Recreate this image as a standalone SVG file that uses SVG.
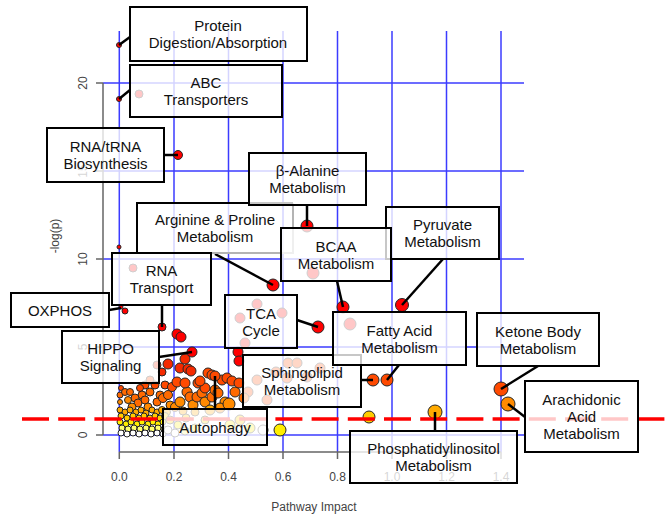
<svg xmlns="http://www.w3.org/2000/svg" width="669" height="515" viewBox="0 0 669 515">
<style>
.grid line{stroke:#3b3bff;stroke-width:1.5}
.axis{stroke:#666;stroke-width:1.5;fill:none}
.tick{font-family:"Liberation Sans",Arial,sans-serif;font-size:12px;fill:#444;text-anchor:middle}
.pts circle{stroke:#262626;stroke-width:1}
.r{fill:#ff0000}.r2{fill:#f52a00}.o1{fill:#ff4a00}.o2{fill:#ff6a00}.o3{fill:#ff8a00}.o4{fill:#ffaa00}
.y1{fill:#ffcc00}.y2{fill:#ffee00}.y3{fill:#ffff70}.w{fill:#ffffff}
.conn line{stroke:#000;stroke-width:2.5}
.node rect{fill:#fff;fill-opacity:0.78;stroke:#000;stroke-width:2}
.node text{font-family:"Liberation Sans",Arial,sans-serif;font-size:15px;fill:#111;text-anchor:middle}
</style>
<rect width="669" height="515" fill="#fff"/>
<g class="grid">
<line x1="119.3" y1="31" x2="119.3" y2="452"/><line x1="174" y1="31" x2="174" y2="452"/>
<line x1="228.5" y1="31" x2="228.5" y2="452"/><line x1="283" y1="31" x2="283" y2="452"/>
<line x1="337.5" y1="31" x2="337.5" y2="452"/><line x1="392" y1="31" x2="392" y2="452"/>
<line x1="446.5" y1="31" x2="446.5" y2="452"/><line x1="501" y1="31" x2="501" y2="452"/>
<line x1="103" y1="83" x2="524" y2="83"/><line x1="103" y1="171" x2="524" y2="171"/>
<line x1="103" y1="259" x2="524" y2="259"/><line x1="103" y1="347" x2="524" y2="347"/>
<line x1="103" y1="435" x2="524" y2="435"/>
</g>
<path class="axis" d="M103,83V435M96,83H103M96,171H103M96,259H103M96,347H103M96,435H103M119.3,452H501M119.3,452v7M174,452v7M228.5,452v7M283,452v7M337.5,452v7M392,452v7M446.5,452v7M501,452v7"/>
<g class="tick">
<text transform="translate(87,83) rotate(-90)">20</text>
<text transform="translate(87,171) rotate(-90)">15</text>
<text transform="translate(87,259) rotate(-90)">10</text>
<text transform="translate(87,347) rotate(-90)">5</text>
<text transform="translate(87,435) rotate(-90)">0</text>
<text transform="translate(59,236) rotate(-90)">-log(p)</text>
<text x="119.3" y="481">0.0</text><text x="174" y="481">0.2</text><text x="228.5" y="481">0.4</text>
<text x="283" y="481">0.6</text><text x="337.5" y="481">0.8</text><text x="392" y="481">1.0</text>
<text x="446.5" y="481">1.2</text><text x="501" y="481">1.4</text>
<text x="314" y="511">Pathway Impact</text>
</g>
<g class="pts">
<circle cx="119" cy="45" r="2.5" class="r"/><circle cx="119" cy="99" r="2.5" class="r"/><circle cx="139" cy="94" r="4" class="r"/>
<circle cx="178" cy="155" r="4.5" class="r"/><circle cx="307" cy="226" r="6" class="r"/><circle cx="273" cy="285" r="6" class="r"/>
<circle cx="343" cy="307" r="6" class="r"/><circle cx="402" cy="305" r="6.5" class="r"/><circle cx="162" cy="327" r="4" class="r"/>
<circle cx="133" cy="268" r="4" class="r"/><circle cx="119" cy="247" r="2" class="r"/><circle cx="121" cy="307" r="2" class="r"/>
<circle cx="125" cy="311" r="3" class="r"/><circle cx="318" cy="327" r="6" class="r"/>
<circle cx="240" cy="318" r="5" class="r"/><circle cx="257" cy="304" r="5" class="r"/><circle cx="282" cy="313" r="5" class="r"/>
<circle cx="245" cy="343" r="5" class="r"/><circle cx="313" cy="273" r="6" class="r"/><circle cx="350" cy="324" r="6" class="r"/>
<circle cx="373" cy="380" r="6" class="o1"/><circle cx="387" cy="380" r="6" class="o1"/>
<circle cx="501" cy="389" r="7" class="o1"/><circle cx="508" cy="404" r="7" class="o3"/><circle cx="435" cy="412" r="7" class="o4"/>
<circle cx="369" cy="417" r="6" class="y1"/><circle cx="280" cy="430" r="6" class="y2"/>
<circle cx="177" cy="334" r="5" class="r"/><circle cx="181" cy="337" r="5" class="r"/>
<circle cx="185" cy="359" r="5" class="r2"/><circle cx="168" cy="364" r="5" class="r2"/><circle cx="180" cy="368" r="5" class="r2"/>
<circle cx="188" cy="369" r="5" class="r2"/><circle cx="191" cy="371" r="5" class="r2"/><circle cx="157" cy="365" r="4" class="r2"/>
<circle cx="162" cy="372" r="4" class="r2"/><circle cx="238" cy="352" r="5" class="r"/><circle cx="239" cy="361" r="5" class="r"/>
<circle cx="192" cy="352" r="5" class="r"/>
<circle cx="257" cy="380" r="5" class="o1"/><circle cx="267" cy="400" r="5" class="o1"/><circle cx="248" cy="392" r="5" class="o1"/>
<circle cx="288" cy="363" r="5" class="o1"/><circle cx="297" cy="363" r="5" class="o1"/><circle cx="307" cy="377" r="5" class="o1"/>
<circle cx="287" cy="378" r="5" class="o1"/><circle cx="276" cy="372" r="5" class="o1"/><circle cx="320" cy="368" r="5" class="o1"/>
<circle cx="121" cy="388" r="2.5" class="o1"/><circle cx="120" cy="395" r="3" class="o2"/><circle cx="125" cy="392" r="3.5" class="o2"/>
<circle cx="120" cy="402" r="2.5" class="o3"/><circle cx="145" cy="385" r="4" class="o1"/><circle cx="150" cy="380" r="4" class="o1"/>
<circle cx="140" cy="388" r="3.5" class="o1"/><circle cx="155" cy="385" r="4" class="o1"/><circle cx="165" cy="385" r="4" class="o1"/>
<circle cx="130" cy="392" r="3.5" class="o2"/><circle cx="142" cy="395" r="4" class="o2"/><circle cx="150" cy="392" r="4" class="o2"/>
<circle cx="160" cy="395" r="4" class="o2"/><circle cx="135" cy="398" r="4" class="o2"/><circle cx="128" cy="400" r="3.5" class="o3"/>
<circle cx="138" cy="403" r="4" class="o2"/><circle cx="145" cy="400" r="4" class="o2"/><circle cx="132" cy="407" r="4" class="o3"/>
<circle cx="148" cy="407" r="4" class="o3"/><circle cx="157" cy="402" r="4" class="o2"/><circle cx="163" cy="398" r="4.5" class="o2"/>
<circle cx="168" cy="395" r="4.5" class="o2"/><circle cx="172" cy="387" r="4.5" class="o1"/><circle cx="170" cy="405" r="4" class="o3"/>
<circle cx="175" cy="407" r="4.5" class="o3"/><circle cx="180" cy="402" r="5" class="o3"/><circle cx="187" cy="392" r="5" class="o2"/>
<circle cx="190" cy="397" r="5" class="o2"/><circle cx="193" cy="405" r="5" class="o3"/><circle cx="197" cy="397" r="5" class="o2"/>
<circle cx="202" cy="393" r="5" class="o2"/><circle cx="205" cy="402" r="5" class="o3"/><circle cx="212" cy="397" r="5" class="o2"/>
<circle cx="215" cy="390" r="5" class="o2"/><circle cx="218" cy="393" r="5" class="o2"/><circle cx="225" cy="402" r="5" class="o3"/>
<circle cx="235" cy="392" r="5" class="o2"/><circle cx="244" cy="398" r="5" class="o2"/><circle cx="220" cy="408" r="5" class="o3"/>
<circle cx="210" cy="410" r="5" class="o4"/><circle cx="195" cy="412" r="4" class="o4"/><circle cx="183" cy="411" r="4" class="o4"/>
<circle cx="229" cy="404" r="6" class="o3"/>
<circle cx="177" cy="382" r="5" class="o1"/><circle cx="185" cy="383" r="5" class="o1"/><circle cx="198" cy="383" r="5" class="o1"/>
<circle cx="205" cy="388" r="5" class="o1"/><circle cx="200" cy="381" r="5" class="o1"/><circle cx="208" cy="373" r="5" class="o1"/>
<circle cx="212" cy="375" r="5" class="o1"/><circle cx="222" cy="380" r="5" class="o1"/><circle cx="227" cy="378" r="5" class="o1"/>
<circle cx="232" cy="381" r="5" class="o1"/><circle cx="239" cy="383" r="5" class="o1"/><circle cx="215" cy="376" r="5" class="o1"/>
<circle cx="120" cy="410" r="3" class="o4"/><circle cx="125" cy="412" r="3" class="o4"/><circle cx="130" cy="410" r="3" class="o4"/>
<circle cx="136" cy="412" r="3" class="o4"/><circle cx="141" cy="410" r="3" class="o4"/><circle cx="146" cy="413" r="3" class="o4"/>
<circle cx="152" cy="410" r="3" class="o4"/><circle cx="157" cy="412" r="3" class="o4"/><circle cx="162" cy="410" r="3.5" class="o4"/>
<circle cx="167" cy="412" r="3.5" class="o4"/>
<circle cx="121" cy="416" r="3" class="y1"/><circle cx="127" cy="418" r="3" class="y1"/><circle cx="133" cy="416" r="3" class="y1"/>
<circle cx="139" cy="418" r="3" class="y1"/><circle cx="144" cy="416" r="3" class="y1"/><circle cx="150" cy="418" r="3" class="y1"/>
<circle cx="155" cy="416" r="3" class="y1"/><circle cx="160" cy="418" r="3" class="y1"/><circle cx="165" cy="416" r="3.5" class="y1"/>
<circle cx="120" cy="422" r="3" class="y2"/><circle cx="126" cy="424" r="3" class="y2"/><circle cx="131" cy="422" r="3" class="y2"/>
<circle cx="137" cy="424" r="3" class="y2"/><circle cx="142" cy="422" r="3" class="y2"/><circle cx="148" cy="424" r="3" class="y2"/>
<circle cx="153" cy="422" r="3" class="y2"/><circle cx="158" cy="424" r="3" class="y2"/><circle cx="163" cy="422" r="3" class="y2"/>
<circle cx="122" cy="428" r="3" class="y3"/><circle cx="128" cy="429" r="3" class="y3"/><circle cx="134" cy="428" r="3" class="y3"/>
<circle cx="140" cy="429" r="3" class="y3"/><circle cx="146" cy="428" r="3" class="y3"/><circle cx="152" cy="429" r="3" class="y3"/>
<circle cx="158" cy="428" r="3" class="y3"/><circle cx="164" cy="429" r="3" class="y3"/>
<circle cx="121" cy="433" r="3" class="w"/><circle cx="127" cy="434" r="3" class="w"/><circle cx="133" cy="433" r="3" class="w"/>
<circle cx="139" cy="434" r="3" class="w"/><circle cx="145" cy="433" r="3" class="w"/><circle cx="151" cy="434" r="3" class="w"/>
<circle cx="157" cy="433" r="3" class="w"/><circle cx="163" cy="434" r="3" class="w"/>
<circle cx="170" cy="420" r="4" class="y1"/><circle cx="178" cy="425" r="4" class="y2"/><circle cx="186" cy="418" r="4" class="y1"/>
<circle cx="195" cy="428" r="4" class="y2"/><circle cx="205" cy="420" r="4" class="y1"/><circle cx="168" cy="430" r="4" class="w"/>
<circle cx="175" cy="433" r="4" class="w"/><circle cx="185" cy="431" r="4" class="y3"/><circle cx="230" cy="425" r="5" class="y2"/>
<circle cx="240" cy="420" r="5" class="y1"/><circle cx="250" cy="428" r="5" class="y2"/><circle cx="263" cy="430" r="5" class="w"/>
</g>
<line x1="22" y1="419" x2="669" y2="419" stroke="#ff0000" stroke-width="3.5" stroke-dasharray="27 9.2"/>
<g class="conn">
<line x1="130" y1="37" x2="119" y2="45"/>
<line x1="130" y1="90" x2="119" y2="99"/>
<line x1="164" y1="155" x2="178" y2="155"/>
<line x1="307" y1="205" x2="307" y2="226"/>
<line x1="215" y1="254" x2="273" y2="285"/>
<line x1="337" y1="281" x2="343" y2="307"/>
<line x1="443" y1="259" x2="402" y2="305"/>
<line x1="162" y1="305" x2="162" y2="327"/>
<line x1="109" y1="310" x2="121" y2="308"/>
<line x1="297" y1="320" x2="318" y2="327"/>
<line x1="399" y1="365" x2="387" y2="380"/>
<line x1="361" y1="380" x2="373" y2="380"/>
<line x1="159" y1="357" x2="192" y2="352"/>
<line x1="215" y1="409" x2="215" y2="376"/>
<line x1="538" y1="366" x2="501" y2="389"/>
<line x1="525" y1="417" x2="508" y2="404"/>
<line x1="435" y1="431" x2="435" y2="412"/>
</g>
<g id="n-protein" class="node"><rect x="130" y="7" width="177" height="54"/><text x="218" y="31">Protein</text><text x="218" y="48">Digestion/Absorption</text></g>
<g id="n-abc" class="node"><rect x="130" y="65" width="152" height="52"/><text x="206" y="88">ABC</text><text x="206" y="105">Transporters</text></g>
<g id="n-rnatrna" class="node"><rect x="47" y="128" width="117" height="54"/><text x="105.5" y="152">RNA/tRNA</text><text x="105.5" y="169">Biosynthesis</text></g>
<g id="n-arginine" class="node"><rect x="137" y="203" width="156" height="50" style="stroke:none"/><path d="M293,203V253H211" fill="none" stroke="#b4b4b4" stroke-width="2"/><path d="M137,253V203H293" fill="none" stroke="#000" stroke-width="2"/><text x="215" y="225">Arginine &amp; Proline</text><text x="215" y="242">Metabolism</text></g>
<g id="n-balanine" class="node"><rect x="249" y="153" width="117" height="52"/><text x="307.5" y="176">β-Alanine</text><text x="307.5" y="193">Metabolism</text></g>
<g id="n-pyruvate" class="node"><rect x="386" y="207" width="113" height="52"/><text x="442.5" y="230">Pyruvate</text><text x="442.5" y="247">Metabolism</text></g>
<g id="n-bcaa" class="node"><rect x="281" y="228" width="110" height="53"/><text x="336" y="251.5">BCAA</text><text x="336" y="268.5">Metabolism</text></g>
<g id="n-rnatransport" class="node"><rect x="112" y="253" width="99" height="52"/><text x="161.5" y="276">RNA</text><text x="161.5" y="293">Transport</text></g>
<g id="n-oxphos" class="node"><rect x="11" y="293" width="98" height="34"/><text x="60" y="315.5">OXPHOS</text></g>
<g id="n-hippo" class="node"><rect x="62" y="331" width="97" height="52"/><text x="110.5" y="354">HIPPO</text><text x="110.5" y="371">Signaling</text></g>
<g id="n-tca" class="node"><rect x="225" y="295" width="72" height="53"/><text x="261" y="318.5">TCA</text><text x="261" y="335.5">Cycle</text></g>
<g id="n-sphingolipid" class="node"><rect x="243" y="355" width="118" height="52"/><text x="302" y="378">Sphingolipid</text><text x="302" y="395">Metabolism</text></g>
<g id="n-fattyacid" class="node"><rect x="333" y="312" width="133" height="53"/><text x="399.5" y="335.5">Fatty Acid</text><text x="399.5" y="352.5">Metabolism</text></g>
<g id="n-autophagy" class="node"><rect x="163" y="409" width="104" height="36"/><text x="215" y="432.5">Autophagy</text></g>
<g id="n-ketone" class="node"><rect x="477" y="313" width="122" height="53"/><text x="538" y="336.5">Ketone Body</text><text x="538" y="353.5">Metabolism</text></g>
<g id="n-arachidonic" class="node"><rect x="525" y="381" width="113" height="71"/><text x="581.5" y="405">Arachidonic</text><text x="581.5" y="422">Acid</text><text x="581.5" y="439">Metabolism</text></g>
<g id="n-phosph" class="node"><rect x="350" y="431" width="167" height="52"/><text x="433.5" y="454">Phosphatidylinositol</text><text x="433.5" y="471">Metabolism</text></g>
</svg>
